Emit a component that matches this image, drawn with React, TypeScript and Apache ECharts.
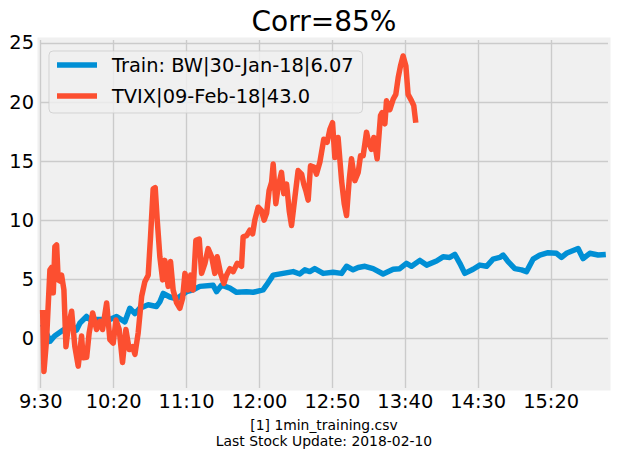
import React, { useEffect, useRef } from 'react';
import * as echarts from 'echarts';

const TITLE = 'Corr=85%';
const FOOTER_LINES = ['[1] 1min_training.csv', 'Last Stock Update: 2018-02-10'];
const TRAIN_NAME = 'Train: BW|30-Jan-18|6.07';
const TVIX_NAME = 'TVIX|09-Feb-18|43.0';

// minutes after 9:30
const xTickMinutes = [0, 50, 100, 150, 200, 250, 300, 350];
const yTicks = [0, 5, 10, 15, 20, 25];

const trainMinutes = [1.3, 6.3, 9.5, 15.4, 21.1, 24.5, 26.9, 31.4, 33.7, 40.6, 47.4, 52, 57.7, 61.1, 64.6, 68, 73.7, 79.4, 81.7, 84, 88.6, 93.2, 100, 104.5, 109.1, 118.2, 120.6, 124, 129.7, 134.3, 141.1, 145.7, 152.5, 154.8, 159.4, 166.2, 173.1, 177.7, 181.1, 184.5, 187.9, 193.7, 200.5, 206.3, 209.7, 214.2, 217.7, 222.3, 227.9, 234.8, 241.7, 246.2, 250.8, 254.3, 260, 264.6, 271.4, 275.9, 280.5, 284, 287.4, 290.8, 296.5, 301.1, 305.7, 310.2, 314.8, 317.1, 320.5, 325.1, 329.7, 333.1, 337.6, 342.2, 347.9, 353.7, 357.1, 360.5, 368.5, 371.9, 376.5, 382.2, 387.5];
const trainValues = [1.2, -0.25, 0.2, 0.7, 1.15, 0.7, 1.3, 1.85, 1.6, 1.6, 1.6, 1.85, 1.4, 2.55, 2.1, 2.55, 2.85, 2.7, 3.1, 3.8, 3.5, 3.35, 3.95, 4.1, 4.4, 4.5, 3.95, 4.5, 4.25, 3.9, 3.95, 3.9, 4.1, 4.5, 5.35, 5.5, 5.65, 5.45, 5.8, 5.65, 5.9, 5.5, 5.6, 5.5, 6.1, 5.8, 6.0, 6.1, 5.9, 5.45, 5.85, 5.9, 6.35, 6.1, 6.6, 6.2, 6.55, 6.9, 6.85, 7.1, 6.35, 5.5, 5.85, 6.2, 6.1, 6.7, 6.85, 7.05, 6.5, 5.9, 5.8, 5.65, 6.7, 7.05, 7.25, 7.2, 6.85, 7.2, 7.6, 6.75, 7.2, 7.05, 7.1];

const tvixMinutes = [1.3, 2.2, 4, 6.3, 7.5, 8.6, 9.7, 10.9, 12, 13.2, 14.3, 15.9, 17.3, 18.9, 21.2, 23.4, 25.7, 28, 29.1, 31.5, 33.2, 35.6, 38.3, 40.6, 42.4, 45.2, 47.4, 49.7, 51.6, 53.8, 56.1, 58.4, 60.7, 63, 64.6, 66.8, 69.2, 71.4, 73.7, 75.3, 77.1, 78.5, 79.9, 81.7, 83.6, 85.1, 87.4, 89, 90.8, 93.2, 95.4, 97.3, 98.9, 101.1, 102.8, 104.5, 106.4, 108.7, 110.3, 112.6, 114.8, 117.2, 119.4, 121, 123.3, 125.6, 127.4, 129.7, 132, 134.7, 137.7, 138.8, 141.2, 143.4, 145.3, 146.8, 149.1, 151.4, 153.2, 154.9, 156.6, 158.3, 159.4, 161.2, 162.8, 165.1, 166.7, 168.6, 170.4, 172, 174.3, 176.5, 178.9, 180.4, 181.8, 183.4, 185, 187.3, 189.1, 191.4, 194.1, 196.4, 198.3, 200.1, 201.7, 203.9, 206.3, 208.1, 209.7, 211.5, 213.1, 215.4, 217.7, 219.3, 221.1, 223.4, 225.2, 226.8, 228.4, 230.7, 233, 234.1, 236, 237.1, 239.4, 241.7, 243.5, 245.1, 246.7, 248.5, 250.4, 251.9, 254.3, 255.8, 257.2];
const tvixValues = [2.4, -2.8, -0.1, 5.8, 6.0, 3.85, 7.75, 7.9, 4.95, 4.85, 5.35, 4.1, -0.7, 1.0, 2.3, -0.7, -2.35, 0.2, -1.65, -1.6, 0.45, 2.15, 0.75, 1.45, 0.75, 3.0, -0.1, -0.4, 1.55, 0.75, -2.05, 0.75, -0.95, -0.7, -1.35, 0.45, 3.55, 4.8, 5.35, 8.6, 12.65, 12.75, 10, 6.9, 4.95, 6.6, 4.4, 6.5, 4.1, 3.0, 2.55, 3.4, 5.5, 4.1, 5.35, 4.1, 8.3, 8.4, 5.5, 6.35, 7.6, 6.9, 5.5, 6.9, 5.5, 4.65, 5.35, 5.9, 5.65, 6.35, 6.1, 8.6, 8.7, 9.15, 8.85, 10, 11.1, 10.8, 10, 10.6, 12.5, 13.2, 14.75, 11.4, 12.8, 14.05, 12.25, 13.05, 10.8, 9.55, 11.95, 14.2, 13.9, 13.05, 12.5, 11.7, 14.6, 14.5, 13.9, 14.9, 16.85, 16.6, 17.7, 18.25, 15.3, 17, 13.35, 11.4, 10.4, 13.35, 15.2, 13.35, 14.05, 15.45, 15.45, 17.45, 16.45, 16.0, 17, 15.2, 18.85, 19.1, 18.15, 20.1, 19.35, 20.25, 20.65, 22.05, 23.05, 23.9, 23.05, 20.65, 20.1, 19.7, 18.25];

const FONT = 'DejaVu Sans';
const BLUE = '#008fd5';
const RED = '#fc4f30';

function fmtMinute(m: number): string {
  const t = 9 * 60 + 30 + Math.round(m);
  const h = Math.floor(t / 60);
  const mm = t % 60;
  return `${h}:${mm < 10 ? '0' : ''}${mm}`;
}

export default function App() {
  const ref = useRef<HTMLDivElement>(null);
  useEffect(() => {
    if (!ref.current) return;
    const chart = echarts.init(ref.current, null, { renderer: 'svg' });
    const trainData = trainMinutes.map((m, i) => [m, trainValues[i]]);
    const tvixData = tvixMinutes.map((m, i) => [m, tvixValues[i]]);
    chart.setOption({
      animation: false,
      backgroundColor: '#ffffff',
      grid: {
        left: 40,
        right: 9,
        top: 40,
        bottom: 70,
        show: true,
        backgroundColor: '#f0f0f0',
        borderColor: '#f0f0f0',
        borderWidth: 5,
      },
      graphic: [
        {
          type: 'text',
          x: 324,
          y: 21,
          style: { text: TITLE, fontFamily: FONT, fontSize: 28, fill: '#000', align: 'center', verticalAlign: 'middle' },
        },
        {
          type: 'text',
          x: 324,
          y: 425,
          style: { text: FOOTER_LINES[0], fontFamily: FONT, fontSize: 13.9, fill: '#000', align: 'center', verticalAlign: 'middle' },
        },
        {
          type: 'text',
          x: 324,
          y: 441,
          style: { text: FOOTER_LINES[1], fontFamily: FONT, fontSize: 13.9, fill: '#000', align: 'center', verticalAlign: 'middle' },
        },
      ],
      legend: {
        orient: 'vertical',
        left: 49,
        top: 51,
        padding: [3, 9, 6, 8],
        itemGap: 9,
        itemWidth: 40,
        itemHeight: 5.5,
        icon: 'rect',
        backgroundColor: 'rgba(240,240,240,0.8)',
        borderColor: 'rgba(204,204,204,0.8)',
        borderWidth: 1,
        borderRadius: 4,
        textStyle: { fontFamily: FONT, fontSize: 19.4, color: '#000', lineHeight: 22, padding: [0, 0, 0, 10] },
        data: [TRAIN_NAME, TVIX_NAME],
      },
      xAxis: {
        type: 'value',
        min: -0.5,
        max: 389,
        axisLine: { show: false },
        axisTick: { show: false, customValues: xTickMinutes },
        axisLabel: {
          customValues: xTickMinutes,
          formatter: (v: number) => fmtMinute(v),
          fontFamily: FONT,
          fontSize: 19.4,
          color: '#000',
          margin: 4,
        },
        splitLine: { show: true, lineStyle: { color: '#cbcbcb', width: 1.4 } },
      },
      yAxis: {
        type: 'value',
        min: -4.2,
        max: 25.25,
        axisLine: { show: false },
        axisTick: { show: false, customValues: yTicks },
        axisLabel: {
          customValues: yTicks,
          fontFamily: FONT,
          fontSize: 19.4,
          color: '#000',
          margin: 6,
        },
        splitLine: { show: true, lineStyle: { color: '#cbcbcb', width: 1.4 } },
      },
      series: [
        {
          name: TRAIN_NAME,
          type: 'line',
          data: trainData,
          showSymbol: false,
          symbol: 'none',
          color: BLUE,
          lineStyle: { color: BLUE, width: 5.5, cap: 'butt', join: 'round' },
          z: 2,
        },
        {
          name: TVIX_NAME,
          type: 'line',
          data: tvixData,
          showSymbol: false,
          symbol: 'none',
          color: RED,
          lineStyle: { color: RED, width: 5.5, cap: 'butt', join: 'round' },
          z: 3,
        },
      ],
    });
    return () => chart.dispose();
  }, []);
  return <div ref={ref} style={{ position: 'fixed', left: 0, top: 0, width: 617, height: 458 }} />;
}
